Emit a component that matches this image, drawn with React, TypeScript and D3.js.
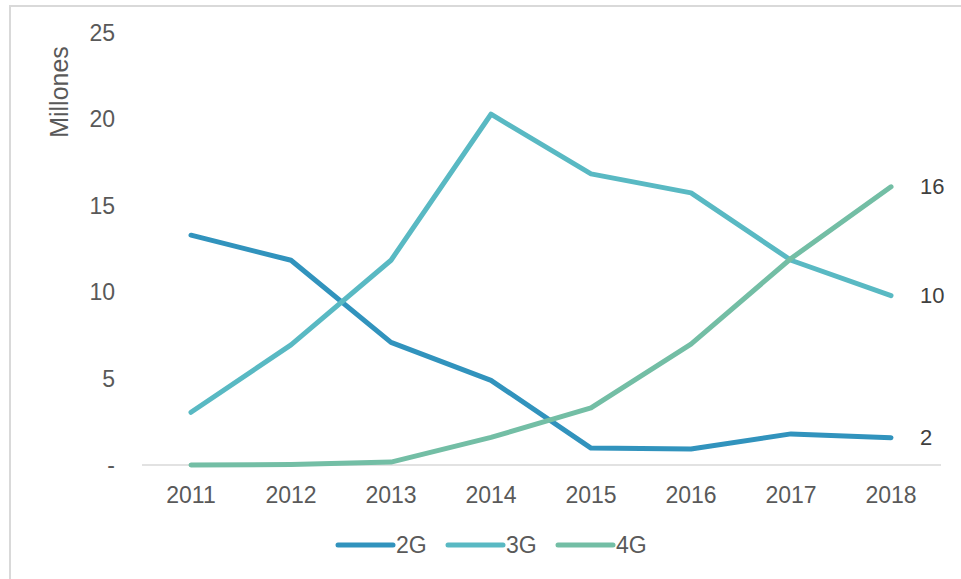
import React, { useEffect, useRef } from "react";
import * as d3 from "d3";

const years = [2011, 2012, 2013, 2014, 2015, 2016, 2017, 2018];
const series2G = [13.3, 11.85, 7.1, 4.9, 0.98, 0.93, 1.8, 1.58];
const series3G = [3.05, 6.95, 11.85, 20.3, 16.85, 15.75, 11.85, 9.8];
const series4G = [0, 0.03, 0.17, 1.6, 3.3, 7.0, 11.95, 16.1];
const seriesNames = ["2G", "3G", "4G"];
const seriesColors = ["#3193bd", "#59b9c3", "#73bea5"];
const yTicks = [0, 5, 10, 15, 20, 25];
const endLabels = ["2", "10", "16"];

export default function App() {
  const ref = useRef<SVGSVGElement>(null);
  useEffect(() => {
    const svg = d3.select(ref.current);
    svg.selectAll("*").remove();
    const font = "'Liberation Sans', Arial, sans-serif";
    const x = d3.scaleLinear().domain([2011, 2018]).range([191, 891]);
    const y = d3.scaleLinear().domain([0, 25]).range([465, 33]);

    svg.append("rect").attr("x", 10).attr("y", 6).attr("width", 1200).attr("height", 1200)
      .attr("fill", "none").attr("stroke", "#d9d9d9").attr("stroke-width", 2);

    // axis line
    svg.append("line").attr("x1", x(2011) - 49).attr("x2", x(2018) + 50)
      .attr("y1", y(0)).attr("y2", y(0)).attr("stroke", "#d9d9d9").attr("stroke-width", 1.5);

    // y ticks
    svg.append("g").selectAll("text").data(yTicks).join("text")
      .attr("x", 115).attr("y", (d) => y(d)).attr("dy", "0.35em")
      .attr("text-anchor", "end").attr("font-family", font).attr("font-size", 23)
      .attr("fill", "#595959").text((d) => (d === 0 ? "-" : String(d)));

    // y title
    svg.append("text").attr("transform", `translate(68,92) rotate(-90)`)
      .attr("text-anchor", "middle").attr("font-family", font).attr("font-size", 25)
      .attr("fill", "#595959").text("Millones");

    // x labels
    svg.append("g").selectAll("text").data(years).join("text")
      .attr("x", (d) => x(d)).attr("y", 503).attr("text-anchor", "middle")
      .attr("font-family", font).attr("font-size", 23).attr("fill", "#595959")
      .text((d) => String(d));

    const all = [series2G, series3G, series4G];
    const line = d3.line<number>().x((_, i) => x(years[i])).y((d) => y(d));
    [0, 1, 2].forEach((si) => {
      svg.append("path").attr("d", line(all[si]) as string).attr("fill", "none")
        .attr("stroke", seriesColors[si]).attr("stroke-width", 5)
        .attr("stroke-linecap", "round").attr("stroke-linejoin", "round");
    });

    // end labels
    all.forEach((s, si) => {
      svg.append("text").attr("x", 920).attr("y", y(s[s.length - 1])).attr("dy", "0.35em")
        .attr("font-family", font).attr("font-size", 22).attr("fill", "#404040")
        .text(endLabels[si]);
    });

    // legend
    const legX = [338, 448, 558];
    seriesNames.forEach((n, i) => {
      svg.append("line").attr("x1", legX[i]).attr("x2", legX[i] + 55)
        .attr("y1", 545).attr("y2", 545).attr("stroke", seriesColors[i])
        .attr("stroke-width", 5).attr("stroke-linecap", "round");
      svg.append("text").attr("x", legX[i] + 58).attr("y", 545).attr("dy", "0.35em")
        .attr("font-family", font).attr("font-size", 23).attr("fill", "#595959").text(n);
    });
  }, []);
  return (
    <svg ref={ref} width={961} height={579}
      style={{ position: "absolute", left: 0, top: 0, background: "#fff" }} />
  );
}
